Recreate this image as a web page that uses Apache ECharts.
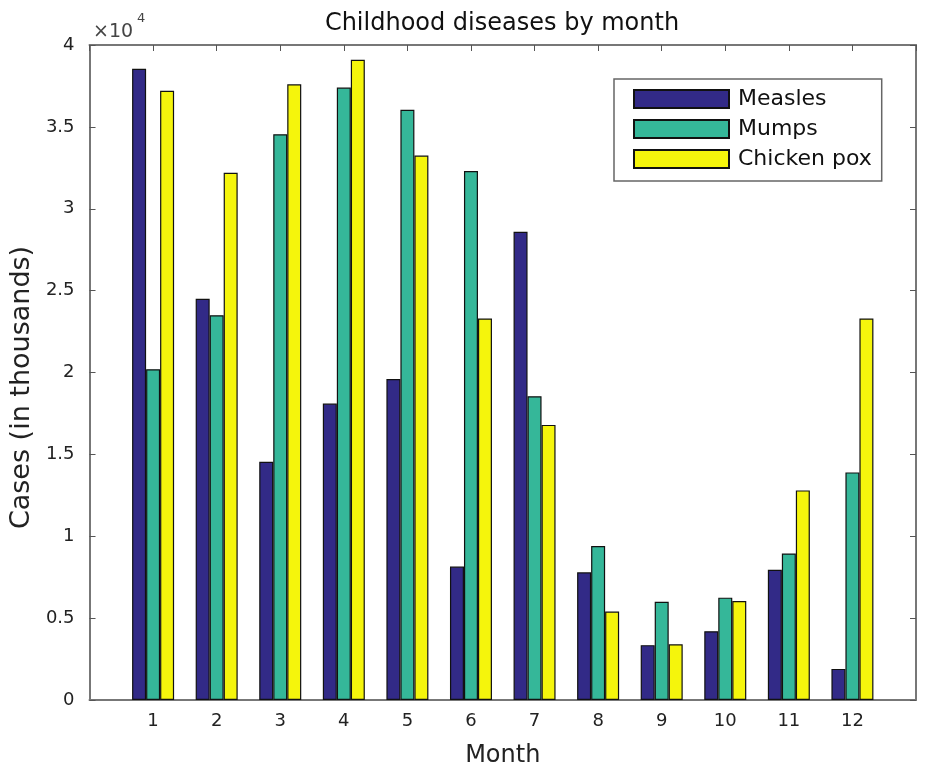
<!DOCTYPE html>
<html>
<head>
<meta charset="utf-8">
<script src="https://cdn.jsdelivr.net/npm/echarts@6/dist/echarts.min.js"></script>
<style>
html,body{margin:0;padding:0;background:#fff;}
#chart{width:929px;height:779px;}
</style>
</head>
<body>
<div id="chart"></div>
<script>
const months = ['1','2','3','4','5','6','7','8','9','10','11','12'];
const measles = [38550, 24500, 14550, 18100, 19600, 8150, 28600, 7800, 3350, 4200, 7950, 1900];
const mumps = [20200, 23500, 34550, 37400, 36050, 32300, 18550, 9400, 6000, 6250, 8950, 13900];
const chickenPox = [37200, 32200, 37600, 39100, 33250, 23300, 16800, 5400, 3400, 6050, 12800, 23300];
const yTicks = ['0','0.5','1','1.5','2','2.5','3','3.5','4'];

const FONT = 'DejaVu Sans';
const cats = [''].concat(months, ['']);
const pad = arr => [null].concat(arr, [null]);

const chart = echarts.init(document.getElementById('chart'), null, {renderer: 'canvas'});
const axisLine = {show: true, onZero: false, lineStyle: {color: '#777', width: 2}};
const tick = {show: true, inside: true, length: 6, lineStyle: {color: '#555', width: 1}, interval: 0};

function barSeries(name, data, color) {
  return {
    name: name, type: 'bar', data: pad(data),
    barWidth: 14, barGap: '0%',
    itemStyle: {color: color, borderColor: '#111', borderWidth: 1.2}
  };
}

chart.setOption({
  animation: false,
  backgroundColor: '#fff',
  grid: {left: 88, right: 13, top: 45, bottom: 79},
  graphic: [
    {type: 'text', x: 502, y: 24, style: {text: 'Childhood diseases by month', font: '24px "DejaVu Sans"', fill: '#111', textAlign: 'center', textVerticalAlign: 'middle'}},
    {type: 'text', x: 93, y: 32, style: {text: '×10', font: '19px "DejaVu Sans"', fill: '#444', textAlign: 'left', textVerticalAlign: 'middle'}},
    {type: 'text', x: 137, y: 19, style: {text: '4', font: '13px "DejaVu Sans"', fill: '#444', textAlign: 'left', textVerticalAlign: 'middle'}}
  ],
  legend: {
    orient: 'vertical', left: 614, top: 79,
    itemWidth: 95, itemHeight: 18, itemGap: 8,
    padding: [9, 10, 11, 19],
    borderColor: '#666', borderWidth: 1.5, backgroundColor: '#fff',
    icon: 'rect',
    textStyle: {fontFamily: FONT, fontSize: 22, color: '#111', lineHeight: 18, padding: [0, 0, 0, 4]},
    data: ['Measles', 'Mumps', 'Chicken pox']
  },
  xAxis: [
    {type: 'category', data: cats, boundaryGap: false, position: 'bottom',
     axisLine: axisLine, axisTick: {show: false},
     axisLabel: {interval: 0, margin: 12, fontFamily: FONT, fontSize: 18, color: '#222'},
     splitLine: {show: false},
     name: 'Month', nameLocation: 'middle', nameGap: 44,
     nameTextStyle: {fontFamily: FONT, fontSize: 24, color: '#222'}},
    {type: 'category', data: cats, boundaryGap: false, position: 'top',
     axisLine: axisLine, axisTick: tick, axisLabel: {show: false}, splitLine: {show: false}}
  ],
  yAxis: [
    {type: 'value', min: 0, max: 40000, interval: 5000, position: 'left',
     axisLine: axisLine, axisTick: tick,
     axisLabel: {margin: 15, fontFamily: FONT, fontSize: 18, color: '#222',
       formatter: v => yTicks[Math.round(v / 5000)]},
     splitLine: {show: false},
     name: 'Cases (in thousands)', nameLocation: 'middle', nameGap: 50, nameRotate: 90,
     nameTextStyle: {fontFamily: FONT, fontSize: 27, color: '#222', padding: [0, 30, 0, 0]}},
    {type: 'value', min: 0, max: 40000, interval: 5000, position: 'right',
     axisLine: axisLine, axisTick: tick, axisLabel: {show: false}, splitLine: {show: false}}
  ],
  series: [
    barSeries('Measles', measles, '#322a87'),
    barSeries('Mumps', mumps, '#35b799'),
    barSeries('Chicken pox', chickenPox, '#f5f50c')
  ]
});
</script>
</body>
</html>
